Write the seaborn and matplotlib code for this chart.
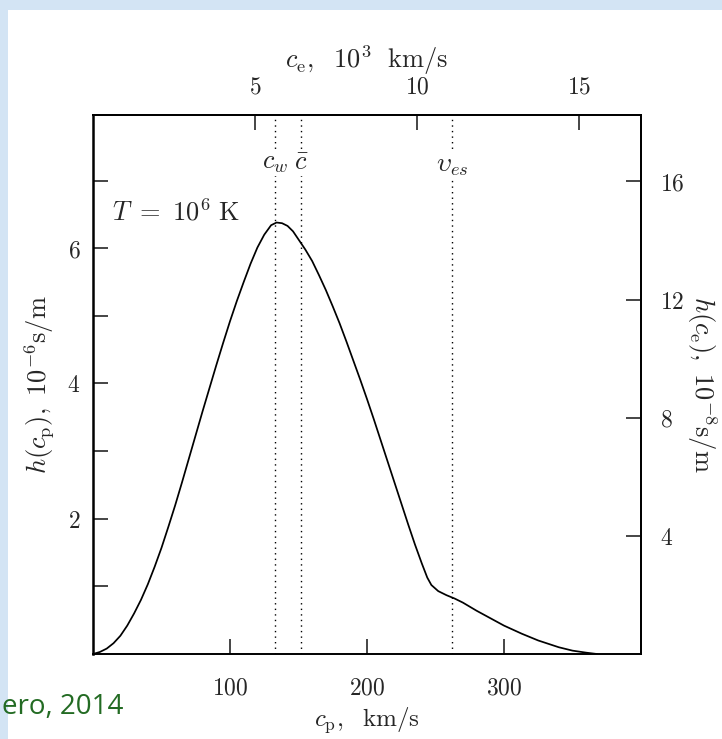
import numpy as np
import pandas as pd
import matplotlib
matplotlib.use("Agg")
import matplotlib.pyplot as plt
from matplotlib.ticker import FixedLocator, FuncFormatter
from matplotlib.patches import Rectangle
import seaborn as sns

# ---- data ----
cp_kms = [0, 5, 10, 15, 20, 25, 30, 35, 40, 45, 50, 55, 60, 65, 70, 75, 80, 85, 90, 95,
          100, 105, 110, 115, 120, 125, 130, 134, 138, 142, 146, 150, 155, 160, 165, 170,
          175, 180, 185, 190, 195, 200, 205, 210, 215, 220, 225, 230, 235, 240, 244, 247,
          252, 258, 264, 270, 275, 280, 290, 300, 313, 325, 340, 350, 360, 368]
h_cp = [0.00, 0.03, 0.08, 0.16, 0.27, 0.42, 0.60, 0.80, 1.03, 1.29, 1.57, 1.88, 2.20, 2.54,
        2.89, 3.24, 3.59, 3.93, 4.27, 4.60, 4.92, 5.22, 5.50, 5.77, 6.01, 6.20, 6.34, 6.38,
        6.37, 6.33, 6.25, 6.13, 5.98, 5.81, 5.60, 5.38, 5.14, 4.89, 4.62, 4.34, 4.06, 3.77,
        3.47, 3.16, 2.85, 2.54, 2.23, 1.92, 1.62, 1.34, 1.13, 1.02, 0.93, 0.87, 0.82, 0.76,
        0.70, 0.64, 0.53, 0.42, 0.30, 0.20, 0.10, 0.05, 0.02, 0.00]

marker_names = [r"$c_w$", r"$\bar{c}$", r"$\upsilon_{es}$"]
marker_speeds = [133, 152, 262]

bottom_ticks = [100, 200, 300]
top_ticks = [5, 10, 15]
left_ticks = [1, 2, 3, 4, 5, 6, 7]
left_labels = [2, 4, 6]
right_ticks = [4, 8, 12, 16]

CE_PER_CP = 0.0423     # 10^3 km/s of c_e per km/s of c_p (axis scale)
HE_PER_HP = 2.29       # right-axis units per left-axis unit

df = pd.DataFrame({"cp": cp_kms, "h": h_cp})

sns.set_theme(style="white")
plt.rcParams["mathtext.fontset"] = "cm"
plt.rcParams["font.family"] = ["DejaVu Serif"]

TICK_FS = 17
LAB_FS = 19

fig = plt.figure(figsize=(7.22, 7.39), dpi=100)
fig.patch.set_facecolor("white")
# slide background strips
fig.patches.append(Rectangle((0, 0.986), 1, 0.014, transform=fig.transFigure,
                             facecolor="#d3e4f4", edgecolor="none", zorder=0))
fig.patches.append(Rectangle((0, 0), 0.011, 1, transform=fig.transFigure,
                             facecolor="#d3e4f4", edgecolor="none", zorder=0))

ax = fig.add_axes([0.1288, 0.115, 0.8878 - 0.1288, 0.8444 - 0.115])
ax.set_facecolor("white")

sns.lineplot(data=df, x="cp", y="h", ax=ax, color="black", linewidth=1.25)

ax.set_xlim(0, 400)
ax.set_ylim(0, 7.97)

for v in marker_speeds:
    ax.axvline(v, color="black", linestyle=(0, (1, 3)), linewidth=1.0, zorder=1)
for name, v, yv in zip(marker_names, marker_speeds, [7.27, 7.27, 7.22]):
    ax.text(v, yv, name, ha="center", va="center", fontsize=LAB_FS,
            bbox=dict(facecolor="white", edgecolor="none", pad=1.0), zorder=3)

ax.text(14, 6.53, r"$T\ =\ 10^6\ \mathrm{K}$", ha="left", va="center", fontsize=LAB_FS)

mfmt = FuncFormatter(lambda v, p: r"$\mathrm{%g}$" % v)

ax.xaxis.set_major_locator(FixedLocator(bottom_ticks))
ax.xaxis.set_major_formatter(mfmt)
ax.yaxis.set_major_locator(FixedLocator(left_ticks))
ax.yaxis.set_major_formatter(FuncFormatter(
    lambda v, p: (r"$\mathrm{%g}$" % v) if round(v) in left_labels else ""))

ax.tick_params(axis="x", direction="in", length=11, width=1.2, labelsize=TICK_FS,
               pad=16, top=False, bottom=True)
ax.tick_params(axis="y", direction="in", length=11, width=1.2, labelsize=TICK_FS,
               pad=9, left=True, right=False)

for s in ax.spines.values():
    s.set_visible(True)
    s.set_color("black")
    s.set_linewidth(1.4)
ax.spines["left"].set_linewidth(1.8)

ax.set_xlabel(r"$c_{\mathrm{p}},\ \ \mathrm{km/s}$", fontsize=18, labelpad=4)
ax.set_ylabel(r"$h(c_{\mathrm{p}}),\ 10^{-6}\mathrm{s/m}$", fontsize=LAB_FS, labelpad=8)

# top axis: electron speed
secx = ax.secondary_xaxis("top", functions=(lambda c: c * CE_PER_CP,
                                             lambda e: e / CE_PER_CP))
secx.xaxis.set_major_locator(FixedLocator(top_ticks))
secx.xaxis.set_major_formatter(mfmt)
secx.tick_params(axis="x", direction="in", length=11, width=1.2, labelsize=TICK_FS, pad=12)
secx.spines["top"].set_linewidth(1.4)
secx.set_xlabel(r"$c_{\mathrm{e}},\ \ 10^3\ \ \mathrm{km/s}$", fontsize=LAB_FS, labelpad=5)

# right axis: electron distribution
secy = ax.secondary_yaxis("right", functions=(lambda h: h * HE_PER_HP,
                                               lambda g: g / HE_PER_HP))
secy.yaxis.set_major_locator(FixedLocator(right_ticks))
secy.yaxis.set_major_formatter(mfmt)
secy.tick_params(axis="y", direction="in", length=11, width=1.2, labelsize=TICK_FS, pad=14)
secy.spines["right"].set_linewidth(1.4)
secy.set_ylabel(r"$h(c_{\mathrm{e}}),\ 10^{-8}\mathrm{s/m}$", fontsize=LAB_FS,
                rotation=270, labelpad=24)

fig.text(0.003, 0.043, "ero, 2014", fontsize=20, color="#236b23",
         family=["Open Sans", "DejaVu Sans"], ha="left", va="center")

fig.savefig("out.png", dpi=100, facecolor=fig.get_facecolor())
